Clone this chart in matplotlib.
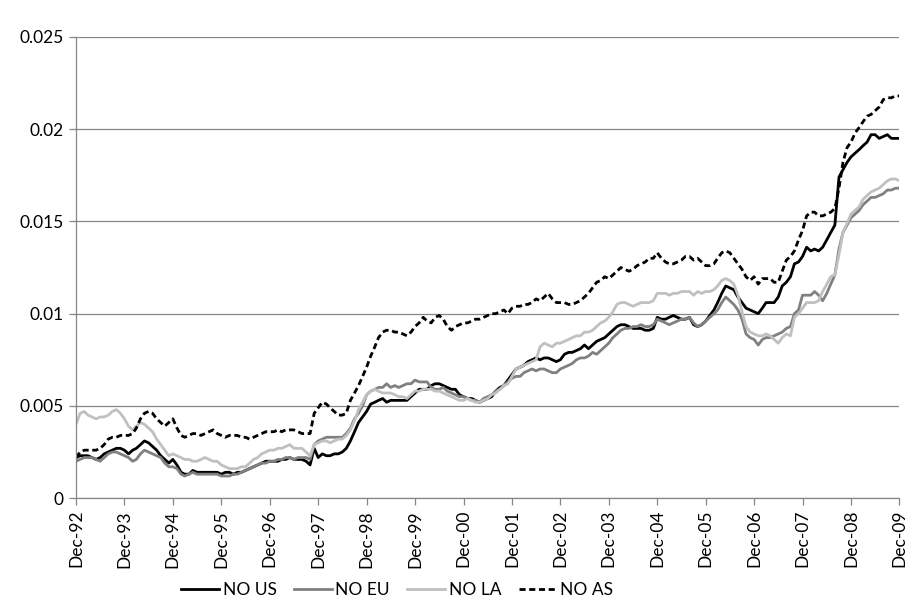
import matplotlib
matplotlib.use("Agg")
import matplotlib.pyplot as plt
import matplotlib.dates as mdates
import pandas as pd

plt.rcParams['font.family'] = ['Lato', 'DejaVu Sans']

# Monthly dates Dec-92 .. Dec-09
start_month = '1992-12-01'
n_months = 205

no_us = [0.0022,
    0.0023, 0.0023, 0.0023, 0.0022, 0.0021, 0.0022, 0.0024, 0.0025, 0.0026, 0.0027, 0.0027, 0.0026,
    0.0024, 0.0026, 0.0027, 0.0029, 0.0031, 0.0030, 0.0028, 0.0026, 0.0023, 0.0021, 0.0019, 0.0021,
    0.0018, 0.0014, 0.0013, 0.0013, 0.0015, 0.0014, 0.0014, 0.0014, 0.0014, 0.0014, 0.0014, 0.0013,
    0.0014, 0.0014, 0.0013, 0.0014, 0.0014, 0.0015, 0.0016, 0.0017, 0.0018, 0.0019, 0.0020, 0.0020,
    0.0020, 0.0020, 0.0021, 0.0021, 0.0022, 0.0021, 0.0021, 0.0021, 0.0020, 0.0018, 0.0027, 0.0022,
    0.0024, 0.0023, 0.0023, 0.0024, 0.0024, 0.0025, 0.0027, 0.0031, 0.0036, 0.0041, 0.0044, 0.0047,
    0.0051, 0.0052, 0.0053, 0.0054, 0.0052, 0.0053, 0.0053, 0.0053, 0.0053, 0.0053, 0.0055, 0.0057,
    0.0059, 0.0059, 0.0059, 0.0061, 0.0062, 0.0062, 0.0061, 0.0060, 0.0059, 0.0059, 0.0056, 0.0055,
    0.0054, 0.0054, 0.0053, 0.0052, 0.0053, 0.0054, 0.0055, 0.0058, 0.0060, 0.0061, 0.0064, 0.0067,
    0.0070, 0.0071, 0.0072, 0.0074, 0.0075, 0.0076, 0.0075, 0.0076, 0.0076, 0.0075, 0.0074, 0.0075,
    0.0078, 0.0079, 0.0079, 0.0080, 0.0081, 0.0083, 0.0081, 0.0083, 0.0085, 0.0086, 0.0087, 0.0089,
    0.0091, 0.0093, 0.0094, 0.0094, 0.0093, 0.0092, 0.0092, 0.0092, 0.0091, 0.0091, 0.0092, 0.0098,
    0.0097, 0.0097, 0.0098, 0.0099, 0.0098, 0.0097, 0.0097, 0.0098, 0.0094, 0.0093, 0.0094, 0.0096,
    0.0099, 0.0102, 0.0106, 0.0111, 0.0115, 0.0114, 0.0113, 0.0109, 0.0106, 0.0103, 0.0102, 0.0101,
    0.0100, 0.0103, 0.0106, 0.0106, 0.0106, 0.0109, 0.0115, 0.0117, 0.0120, 0.0127, 0.0128, 0.0131,
    0.0136, 0.0134, 0.0135, 0.0134, 0.0136, 0.0140, 0.0144, 0.0148, 0.0174, 0.0178, 0.0182, 0.0185,
    0.0187, 0.0189, 0.0191, 0.0193, 0.0197, 0.0197, 0.0195, 0.0196, 0.0197, 0.0195, 0.0195, 0.0195]

no_eu = [0.0020,
    0.0021, 0.0022, 0.0022, 0.0022, 0.0021, 0.0020, 0.0022, 0.0024, 0.0025, 0.0025, 0.0024, 0.0023,
    0.0022, 0.0020, 0.0021, 0.0024, 0.0026, 0.0025, 0.0024, 0.0023, 0.0022, 0.0019, 0.0017, 0.0017,
    0.0016, 0.0013, 0.0012, 0.0013, 0.0014, 0.0013, 0.0013, 0.0013, 0.0013, 0.0013, 0.0013, 0.0012,
    0.0012, 0.0012, 0.0013, 0.0013, 0.0014, 0.0015, 0.0016, 0.0017, 0.0018, 0.0019, 0.0019, 0.0020,
    0.0020, 0.0021, 0.0021, 0.0022, 0.0022, 0.0021, 0.0022, 0.0022, 0.0022, 0.0021, 0.0029, 0.0031,
    0.0032, 0.0033, 0.0033, 0.0033, 0.0033, 0.0033, 0.0035, 0.0038, 0.0043, 0.0046, 0.0050, 0.0056,
    0.0058, 0.0059, 0.0060, 0.0060, 0.0062, 0.0060, 0.0061, 0.0060, 0.0061, 0.0062, 0.0062, 0.0064,
    0.0063, 0.0063, 0.0063, 0.0060, 0.0059, 0.0059, 0.0060, 0.0058, 0.0057, 0.0056, 0.0055, 0.0055,
    0.0054, 0.0053, 0.0053, 0.0052, 0.0054, 0.0055, 0.0056, 0.0058, 0.0059, 0.0061, 0.0063, 0.0065,
    0.0066, 0.0066, 0.0068, 0.0069, 0.0070, 0.0069, 0.0070, 0.0070, 0.0069, 0.0068, 0.0068, 0.0070,
    0.0071, 0.0072, 0.0073, 0.0075, 0.0076, 0.0076, 0.0077, 0.0079, 0.0078, 0.0080, 0.0082, 0.0084,
    0.0087, 0.0089, 0.0091, 0.0092, 0.0092, 0.0093, 0.0093, 0.0094, 0.0093, 0.0093, 0.0094, 0.0097,
    0.0096, 0.0095, 0.0094, 0.0095, 0.0096, 0.0097, 0.0097, 0.0098, 0.0095, 0.0093, 0.0094, 0.0096,
    0.0098, 0.0100, 0.0102, 0.0106, 0.0109, 0.0107, 0.0105, 0.0102, 0.0097, 0.0089, 0.0087, 0.0086,
    0.0083, 0.0086, 0.0087, 0.0087, 0.0088, 0.0089, 0.0090, 0.0092, 0.0093, 0.0100, 0.0102, 0.0110,
    0.0110, 0.0110, 0.0112, 0.0110, 0.0107, 0.0111, 0.0116, 0.0121, 0.0135, 0.0144, 0.0148, 0.0152,
    0.0154, 0.0156, 0.0159, 0.0161, 0.0163, 0.0163, 0.0164, 0.0165, 0.0167, 0.0167, 0.0168, 0.0168]

no_la = [0.0040,
    0.0046, 0.0047, 0.0045, 0.0044, 0.0043, 0.0044, 0.0044, 0.0045, 0.0047, 0.0048, 0.0046, 0.0043,
    0.0039, 0.0037, 0.0039, 0.0041, 0.0040, 0.0038, 0.0036, 0.0032, 0.0029, 0.0026, 0.0023, 0.0024,
    0.0023, 0.0022, 0.0021, 0.0021, 0.0020, 0.0020, 0.0021, 0.0022, 0.0021, 0.0020, 0.0020, 0.0018,
    0.0017, 0.0016, 0.0016, 0.0016, 0.0017, 0.0017, 0.0019, 0.0021, 0.0022, 0.0024, 0.0025, 0.0026,
    0.0026, 0.0027, 0.0027, 0.0028, 0.0029, 0.0027, 0.0027, 0.0027, 0.0025, 0.0023, 0.0029, 0.0030,
    0.0031, 0.0031, 0.0030, 0.0031, 0.0032, 0.0032, 0.0034, 0.0037, 0.0042, 0.0048, 0.0052, 0.0056,
    0.0058, 0.0059, 0.0058, 0.0057, 0.0057, 0.0057, 0.0056, 0.0055, 0.0055, 0.0054, 0.0056, 0.0058,
    0.0058, 0.0059, 0.0059, 0.0059, 0.0058, 0.0058, 0.0057, 0.0056, 0.0055, 0.0054, 0.0053, 0.0053,
    0.0054, 0.0053, 0.0052, 0.0052, 0.0053, 0.0054, 0.0056, 0.0057, 0.0059, 0.0061, 0.0062, 0.0066,
    0.0070, 0.0071, 0.0072, 0.0073, 0.0074, 0.0075, 0.0082, 0.0084, 0.0083, 0.0082, 0.0084, 0.0084,
    0.0085, 0.0086, 0.0087, 0.0088, 0.0088, 0.0090, 0.0090, 0.0091, 0.0093, 0.0095, 0.0096, 0.0098,
    0.0101, 0.0105, 0.0106, 0.0106, 0.0105, 0.0104, 0.0105, 0.0106, 0.0106, 0.0106, 0.0107, 0.0111,
    0.0111, 0.0111, 0.0110, 0.0111, 0.0111, 0.0112, 0.0112, 0.0112, 0.0110, 0.0112, 0.0111, 0.0112,
    0.0112, 0.0113, 0.0115, 0.0118, 0.0119, 0.0118, 0.0116, 0.0110, 0.0101, 0.0093, 0.0090, 0.0089,
    0.0088, 0.0088, 0.0089, 0.0088, 0.0086, 0.0084, 0.0087, 0.0089, 0.0088, 0.0098, 0.0100, 0.0103,
    0.0106, 0.0106, 0.0106, 0.0107, 0.0112, 0.0116, 0.0120, 0.0121, 0.0132, 0.0144, 0.0149, 0.0154,
    0.0156, 0.0158, 0.0162, 0.0164, 0.0166, 0.0167, 0.0168, 0.0170, 0.0172, 0.0173, 0.0173, 0.0172]

no_as = [0.0022,
    0.0025, 0.0026, 0.0026, 0.0026, 0.0026, 0.0027, 0.0029, 0.0032, 0.0033, 0.0033, 0.0034, 0.0034,
    0.0034, 0.0035, 0.0038, 0.0043, 0.0046, 0.0047, 0.0046, 0.0043, 0.0041, 0.0039, 0.0041, 0.0043,
    0.0038, 0.0034, 0.0033, 0.0034, 0.0035, 0.0035, 0.0034, 0.0035, 0.0036, 0.0037, 0.0035, 0.0034,
    0.0033, 0.0034, 0.0034, 0.0034, 0.0033, 0.0033, 0.0032, 0.0033, 0.0034, 0.0035, 0.0036, 0.0036,
    0.0036, 0.0037, 0.0036, 0.0037, 0.0037, 0.0037, 0.0036, 0.0035, 0.0035, 0.0035, 0.0046, 0.0049,
    0.0052, 0.0051, 0.0049, 0.0047, 0.0045, 0.0045, 0.0046, 0.0053, 0.0057, 0.0061, 0.0066, 0.0071,
    0.0077, 0.0082, 0.0087, 0.0090, 0.0091, 0.0091, 0.0090, 0.0090, 0.0089, 0.0088, 0.0090, 0.0093,
    0.0095, 0.0098, 0.0096, 0.0095, 0.0098, 0.0099, 0.0097, 0.0093, 0.0091, 0.0093, 0.0094, 0.0095,
    0.0095, 0.0096, 0.0097, 0.0097, 0.0098, 0.0099, 0.0100, 0.0100, 0.0101, 0.0102, 0.0100, 0.0103,
    0.0104, 0.0104, 0.0105, 0.0105, 0.0106, 0.0108, 0.0107, 0.0109, 0.0111, 0.0108, 0.0106, 0.0106,
    0.0106, 0.0105, 0.0105, 0.0106, 0.0107, 0.0109, 0.0111, 0.0114, 0.0117, 0.0118, 0.0120, 0.0119,
    0.0121, 0.0123, 0.0125, 0.0124, 0.0123, 0.0124, 0.0126, 0.0127, 0.0128, 0.0130, 0.0130, 0.0133,
    0.0130, 0.0128, 0.0127, 0.0127, 0.0128, 0.0129, 0.0131, 0.0131, 0.0129, 0.0130, 0.0128, 0.0126,
    0.0126, 0.0127, 0.0130, 0.0133, 0.0134, 0.0133, 0.0130, 0.0127, 0.0124, 0.0120, 0.0118, 0.0120,
    0.0116, 0.0119, 0.0119, 0.0119, 0.0117, 0.0117, 0.0123, 0.0129, 0.0131, 0.0134, 0.0140, 0.0145,
    0.0153, 0.0155, 0.0155, 0.0153, 0.0153, 0.0154, 0.0155, 0.0157, 0.0168, 0.0182, 0.0190, 0.0193,
    0.0198, 0.0201, 0.0204, 0.0207, 0.0208, 0.0210, 0.0212, 0.0216, 0.0217, 0.0217, 0.0218, 0.0218]

series_names = ['NO US', 'NO EU', 'NO LA', 'NO AS']
y_ticks = [0, 0.005, 0.01, 0.015, 0.02, 0.025]
y_tick_labels = ['0', '0.005', '0.01', '0.015', '0.02', '0.025']

dates = pd.date_range(start_month, periods=n_months, freq='MS')

fig = plt.figure(figsize=(9.18, 6.15), dpi=100)
ax = fig.add_axes([0.0828, 0.190, 0.897, 0.750])

ax.set_ylim(0, 0.025)
ax.set_yticks(y_ticks)
ax.set_yticklabels(y_tick_labels)
ax.yaxis.grid(True, color='#868686', linewidth=0.9)
ax.set_axisbelow(True)

ax.plot(dates, no_us, color='#000000', lw=2.0, label=series_names[0])
ax.plot(dates, no_eu, color='#808080', lw=2.0, label=series_names[1])
ax.plot(dates, no_la, color='#c0c0c0', lw=2.0, label=series_names[2])
ax.plot(dates, no_as, color='#000000', lw=2.0, linestyle=(0, (2.2, 1.3)), label=series_names[3])

ax.set_xlim(dates[0], dates[-1])
ax.set_xticks(dates[::12])
ax.xaxis.set_major_formatter(mdates.DateFormatter('%b-%y'))
plt.setp(ax.get_xticklabels(), rotation=90)

for s in ['top', 'right']:
    ax.spines[s].set_visible(False)
for s in ['left', 'bottom']:
    ax.spines[s].set_color('#868686')
    ax.spines[s].set_linewidth(0.9)
ax.tick_params(axis='both', colors='#868686', labelcolor='black', labelsize=12.5, length=5, width=0.9)
ax.tick_params(axis='y', pad=4)

leg = ax.legend(loc='center', bbox_to_anchor=(0.39, -0.20), ncol=4, frameon=False,
                fontsize=12.5, handlelength=2.2, handletextpad=0.2, columnspacing=1.0)

fig.savefig('out.png', dpi=100)
